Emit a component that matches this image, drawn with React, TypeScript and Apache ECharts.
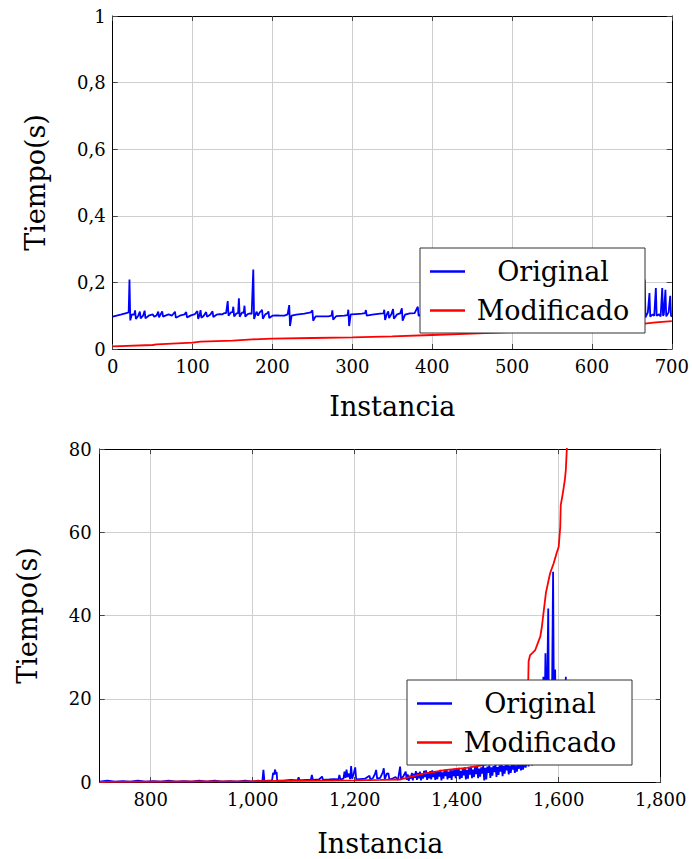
import React, { useEffect, useRef } from "react";
import * as echarts from "echarts";

// ---------- data ----------
const topXTicks = [0, 100, 200, 300, 400, 500, 600, 700];
const topYTicks = [0, 0.2, 0.4, 0.6, 0.8, 1];
const bottomXTicks = [800, 1000, 1200, 1400, 1600, 1800];
const bottomYTicks = [0, 20, 40, 60, 80];
const seriesNames = ["Original", "Modificado"];

const topOriginal: [number, number][] = [
  [0, 0.097], [5, 0.1], [10, 0.103], [17, 0.108], [20, 0.11], [21, 0.209], [22, 0.086], [24, 0.104],
  [27, 0.103], [28, 0.116], [29, 0.09], [32, 0.1], [34, 0.112], [35, 0.092], [38, 0.1], [40, 0.115],
  [41, 0.092], [45, 0.1], [50, 0.104], [52, 0.097], [55, 0.101], [57, 0.112], [58, 0.095], [60, 0.104],
  [62, 0.113], [63, 0.097], [66, 0.1], [70, 0.104], [74, 0.1], [78, 0.112], [79, 0.094], [84, 0.1],
  [90, 0.104], [92, 0.111], [93, 0.095], [98, 0.101], [103, 0.105], [106, 0.114], [107, 0.09], [109, 0.104],
  [110, 0.117], [111, 0.094], [114, 0.1], [117, 0.111], [118, 0.097], [122, 0.103], [125, 0.113], [126, 0.096],
  [130, 0.103], [134, 0.105], [137, 0.104], [140, 0.108], [142, 0.108], [144, 0.144], [145, 0.1], [148, 0.11],
  [150, 0.111], [151, 0.127], [152, 0.098], [155, 0.107], [157, 0.108], [158, 0.152], [159, 0.097], [162, 0.11],
  [164, 0.108], [165, 0.13], [166, 0.097], [169, 0.105], [172, 0.107], [174, 0.105], [176, 0.239], [177, 0.09],
  [180, 0.112], [182, 0.1], [184, 0.11], [186, 0.114], [187, 0.118], [188, 0.091], [191, 0.104], [194, 0.108],
  [195, 0.113], [196, 0.093], [200, 0.1], [205, 0.101], [210, 0.1], [215, 0.1], [219, 0.104], [221, 0.132],
  [222, 0.069], [224, 0.1], [230, 0.103], [240, 0.106], [248, 0.11], [250, 0.116], [251, 0.085], [254, 0.098],
  [262, 0.098], [270, 0.098], [274, 0.1], [275, 0.116], [276, 0.088], [280, 0.099], [290, 0.1], [294, 0.102],
  [295, 0.118], [296, 0.069], [298, 0.104], [305, 0.105], [312, 0.106], [316, 0.108], [317, 0.117], [318, 0.1],
  [325, 0.103], [335, 0.106], [339, 0.107], [340, 0.118], [341, 0.087], [343, 0.103], [345, 0.113], [346, 0.093],
  [349, 0.105], [351, 0.12], [352, 0.091], [356, 0.104], [360, 0.107], [362, 0.122], [363, 0.085], [366, 0.103],
  [372, 0.107], [378, 0.108], [382, 0.127], [383, 0.099], [388, 0.11], [394, 0.125], [395, 0.098], [400, 0.11],
  [408, 0.112], [412, 0.124], [413, 0.1], [420, 0.111], [430, 0.113], [436, 0.126], [437, 0.098], [445, 0.112],
  [455, 0.114], [460, 0.128], [461, 0.1], [470, 0.113], [480, 0.114], [486, 0.126], [487, 0.097], [495, 0.113],
  [505, 0.115], [512, 0.13], [513, 0.1], [520, 0.114], [530, 0.115], [538, 0.127], [539, 0.098], [548, 0.114],
  [558, 0.116], [565, 0.13], [566, 0.1], [575, 0.115], [585, 0.116], [592, 0.128], [593, 0.099], [602, 0.115],
  [612, 0.116], [620, 0.131], [621, 0.1], [630, 0.115], [640, 0.116], [648, 0.13], [649, 0.099], [656, 0.112],
  [662, 0.11], [665, 0.108], [666, 0.209], [667, 0.095], [670, 0.11], [672, 0.168], [673, 0.097], [676, 0.104],
  [678, 0.1], [680, 0.183], [681, 0.1], [684, 0.104], [686, 0.098], [688, 0.183], [689, 0.1], [690, 0.104],
  [692, 0.178], [693, 0.098], [696, 0.11], [698, 0.16], [699, 0.1], [700, 0.097],
];

const topModified: [number, number][] = [
  [0, 0.008], [50, 0.012], [55, 0.014], [100, 0.019], [110, 0.022], [150, 0.025], [175, 0.029],
  [200, 0.031], [250, 0.033], [300, 0.035], [350, 0.038], [400, 0.042], [450, 0.046], [500, 0.051],
  [550, 0.056], [600, 0.063], [640, 0.07], [660, 0.075], [680, 0.08], [700, 0.084],
];

const bottomOriginal: [number, number][] = [
  [700, 0.1], [715, 0.3], [730, 0.1], [745, 0.2], [760, 0.1], [775, 0.3], [790, 0.1], [805, 0.2],
  [820, 0.1], [835, 0.3], [850, 0.1], [865, 0.2], [880, 0.1], [895, 0.3], [910, 0.1], [925, 0.3],
  [940, 0.1], [955, 0.2], [970, 0.1], [985, 0.3], [1000, 0.1], [1010, 0.3], [1019, 0.2], [1021, 2.9],
  [1023, 0.2], [1030, 0.3], [1038, 0.4], [1040, 2.2], [1042, 1.8], [1044, 3.0], [1045, 1.9], [1047, 2.4],
  [1048, 0.3], [1060, 0.3], [1075, 0.5], [1088, 0.4], [1090, 1.1], [1092, 0.4], [1105, 0.5], [1114, 0.5],
  [1116, 1.7], [1118, 0.5], [1130, 0.6], [1136, 1.3], [1138, 0.5], [1150, 0.6], [1160, 0.7], [1168, 0.6],
  [1170, 1.7], [1172, 0.6], [1178, 0.8], [1180, 2.5], [1182, 1.0], [1184, 3.0], [1186, 1.2], [1189, 2.0],
  [1191, 0.7], [1193, 3.8], [1195, 0.8], [1198, 2.0], [1201, 3.5], [1203, 0.6], [1210, 0.7], [1220, 0.8],
  [1229, 1.5], [1231, 0.5], [1236, 1.0], [1240, 2.0], [1242, 2.9], [1244, 0.8], [1250, 1.0], [1255, 2.3],
  [1257, 3.3], [1259, 0.7], [1263, 2.0], [1266, 2.1], [1268, 0.6], [1275, 0.9], [1280, 1.2], [1285, 0.5],
  [1289, 3.7], [1291, 0.6], [1296, 1.5], [1300, 2.5], [1302, 0.5], [1304, 1.8], [1306, 0.3], [1308, 1.5],
  [1310, 0.8], [1312, 2.2], [1314, 0.4], [1316, 2.0], [1318, 1.0], [1320, 2.6], [1322, 0.5], [1324, 2.2],
  [1326, 0.9], [1328, 2.5], [1330, 0.4], [1332, 2.0], [1334, 0.8], [1336, 2.7], [1338, 1.2], [1340, 2.8],
  [1342, 0.5], [1344, 2.3], [1346, 0.9], [1348, 2.6], [1350, 0.6], [1352, 2.8], [1354, 1.2], [1356, 2.4],
  [1358, 0.5], [1360, 2.6], [1362, 0.7], [1364, 2.6], [1366, 1.3], [1368, 2.9], [1370, 0.4], [1372, 2.3],
  [1374, 0.8], [1376, 2.9], [1378, 1.4], [1380, 3.1], [1382, 0.6], [1384, 2.5], [1386, 1.0], [1388, 3.0],
  [1390, 0.5], [1392, 2.8], [1394, 1.4], [1396, 3.2], [1398, 0.9], [1400, 3.1], [1402, 1.5], [1404, 3.4],
  [1406, 0.7], [1408, 2.7], [1410, 1.0], [1412, 3.3], [1414, 1.6], [1416, 3.5], [1418, 0.6], [1420, 2.9],
  [1422, 0.8], [1424, 3.4], [1426, 1.8], [1428, 3.7], [1430, 0.9], [1432, 3.0], [1434, 1.2], [1436, 3.6],
  [1438, 1.9], [1440, 3.8], [1442, 0.9], [1444, 3.2], [1446, 1.3], [1448, 3.5], [1450, 2.0], [1452, 3.9],
  [1454, 0.4], [1456, 3.4], [1458, 0.6], [1460, 3.7], [1462, 2.2], [1464, 4.0], [1466, 1.0], [1468, 3.5],
  [1470, 1.5], [1472, 3.8], [1474, 2.4], [1476, 4.2], [1478, 1.2], [1480, 3.6], [1482, 1.7], [1484, 4.0],
  [1486, 2.5], [1488, 4.3], [1490, 1.4], [1492, 3.8], [1494, 2.0], [1496, 4.1], [1498, 2.8], [1500, 4.4],
  [1502, 1.8], [1504, 3.9], [1506, 2.2], [1508, 4.2], [1510, 3.0], [1512, 4.6], [1514, 2.2], [1516, 4.0],
  [1518, 2.5], [1520, 4.3], [1522, 3.2], [1524, 4.7], [1526, 2.8], [1528, 4.2], [1530, 3.0], [1532, 4.5],
  [1535, 3.5], [1538, 5.0], [1541, 3.8], [1545, 6.0], [1548, 4.0], [1552, 7.0], [1555, 4.5], [1558, 9.0],
  [1561, 5.0], [1564, 12], [1566, 6], [1568, 20], [1569, 8], [1570, 25.3], [1572, 10], [1574, 30.9],
  [1576, 12], [1578, 28], [1579.5, 41.7], [1581, 10], [1584, 22], [1586, 8], [1589, 50.5], [1591, 9],
  [1593, 27], [1595, 6], [1600, 8], [1605, 5], [1610, 6], [1614, 25.3],
];

const bottomModified: [number, number][] = [
  [700, 0.05], [800, 0.1], [900, 0.15], [1000, 0.2], [1100, 0.3], [1200, 0.4], [1250, 0.5], [1290, 0.6],
  [1305, 1.1], [1335, 2.0], [1380, 2.9], [1420, 3.4], [1455, 4.1], [1480, 5.0], [1510, 6.5], [1530, 8.0],
  [1538, 10], [1540, 22], [1541, 29], [1544, 30.5], [1554, 31.7], [1564, 35], [1567, 37.3], [1571, 41.4],
  [1575, 45.5], [1583, 50.1], [1590, 52.5], [1596, 55], [1600, 56.5], [1603, 61.3], [1604, 66.5],
  [1608, 69.3], [1612, 72.5], [1614, 75], [1616, 80.2], [1618, 86],
];

// ---------- styling ----------
const FONT = "DejaVu Serif";
const BLUE = "#0000ff";
const RED = "#ff0000";
const GRIDC = "#cfcfcf";

const fmtComma = (v: number) => String(v).replace(".", ",");
const fmtThousands = (v: number) => v.toLocaleString("en-US");

function mainAxis(extra: any) {
  return {
    type: "value",
    axisLine: { show: true, onZero: false, lineStyle: { color: "#000", width: 1 } },
    axisTick: { show: true, inside: true, length: 5, lineStyle: { color: "#444" } },
    axisLabel: { color: "#000", fontFamily: FONT, fontSize: 18 },
    splitLine: { show: true, lineStyle: { color: GRIDC, width: 1 } },
    nameTextStyle: { color: "#000", fontFamily: FONT, fontSize: 27 },
    ...extra,
  };
}
function frameAxis(extra: any) {
  return {
    type: "value",
    axisLine: { show: true, onZero: false, lineStyle: { color: "#000", width: 1 } },
    axisTick: { show: true, inside: true, length: 5, lineStyle: { color: "#444" } },
    axisLabel: { show: false },
    splitLine: { show: false },
    ...extra,
  };
}

function legendAt(left: number, top: number) {
  return {
    data: seriesNames,
    orient: "vertical",
    left,
    top,
    padding: [10, 9, 9, 10],
    itemGap: 12,
    itemWidth: 35,
    itemHeight: 2.5,
    icon: "rect",
    borderColor: "#333",
    borderWidth: 1,
    backgroundColor: "#fff",
    formatter: "{a|{name}}",
    textStyle: {
      color: "#000",
      fontFamily: FONT,
      fontSize: 27,
      rich: { a: { width: 166, height: 27, align: "center", fontSize: 27, lineHeight: 27, fontFamily: FONT, color: "#000" } },
    },
    z: 10,
  };
}

export default function App() {
  const ref = useRef<HTMLDivElement>(null);
  useEffect(() => {
    const chart = echarts.init(ref.current!, null, { renderer: "svg" });
    const option: any = {
      animation: false,
      backgroundColor: "#fff",
      textStyle: { fontFamily: FONT },
      grid: [
        { left: 112.7, right: 19.3, top: 16, height: 333 },
        { left: 99.7, right: 31.3, top: 449, height: 333 },
      ],
      xAxis: [
        mainAxis({
          gridIndex: 0, position: "bottom", min: topXTicks[0], max: topXTicks[topXTicks.length - 1], interval: 100,
          axisLabel: { color: "#000", fontFamily: FONT, fontSize: 18, margin: 8 },
          name: "Instancia", nameLocation: "middle", nameGap: 44,
        }),
        frameAxis({ gridIndex: 0, position: "top", min: 0, max: 700, interval: 100 }),
        mainAxis({
          gridIndex: 1, position: "bottom", min: 700, max: bottomXTicks[bottomXTicks.length - 1], splitNumber: 5,
          axisLabel: { color: "#000", fontFamily: FONT, fontSize: 18, margin: 8, showMinLabel: false, formatter: fmtThousands },
          name: "Instancia", nameLocation: "middle", nameGap: 48,
        }),
        frameAxis({ gridIndex: 1, position: "top", min: 700, max: 1800, splitNumber: 5 }),
      ],
      yAxis: [
        mainAxis({
          gridIndex: 0, position: "left", min: topYTicks[0], max: topYTicks[topYTicks.length - 1], interval: 0.2,
          axisLabel: { color: "#000", fontFamily: FONT, fontSize: 18, margin: 7, formatter: fmtComma },
          name: "Tiempo(s)", nameLocation: "middle", nameGap: 64,
        }),
        frameAxis({ gridIndex: 0, position: "right", min: 0, max: 1, interval: 0.2 }),
        mainAxis({
          gridIndex: 1, position: "left", min: bottomYTicks[0], max: bottomYTicks[bottomYTicks.length - 1], interval: 20,
          axisLabel: { color: "#000", fontFamily: FONT, fontSize: 18, margin: 8 },
          name: "Tiempo(s)", nameLocation: "middle", nameGap: 59,
        }),
        frameAxis({ gridIndex: 1, position: "right", min: 0, max: 80, interval: 20 }),
      ],
      legend: [legendAt(420, 248), legendAt(407, 680)],
      series: [
        { type: "line", name: seriesNames[0], xAxisIndex: 0, yAxisIndex: 0, data: topOriginal, symbol: "none", color: BLUE, lineStyle: { color: BLUE, width: 1.8 } },
        { type: "line", name: seriesNames[1], xAxisIndex: 0, yAxisIndex: 0, data: topModified, symbol: "none", color: RED, lineStyle: { color: RED, width: 1.8 } },
        { type: "line", name: seriesNames[0], xAxisIndex: 2, yAxisIndex: 2, data: bottomOriginal, symbol: "none", color: BLUE, lineStyle: { color: BLUE, width: 1.8 } },
        { type: "line", name: seriesNames[1], xAxisIndex: 2, yAxisIndex: 2, data: bottomModified, symbol: "none", color: RED, lineStyle: { color: RED, width: 1.8 } },
      ],
    };
    chart.setOption(option);
    return () => chart.dispose();
  }, []);
  return <div ref={ref} style={{ position: "absolute", left: 0, top: 0, width: 692, height: 859 }} />;
}
